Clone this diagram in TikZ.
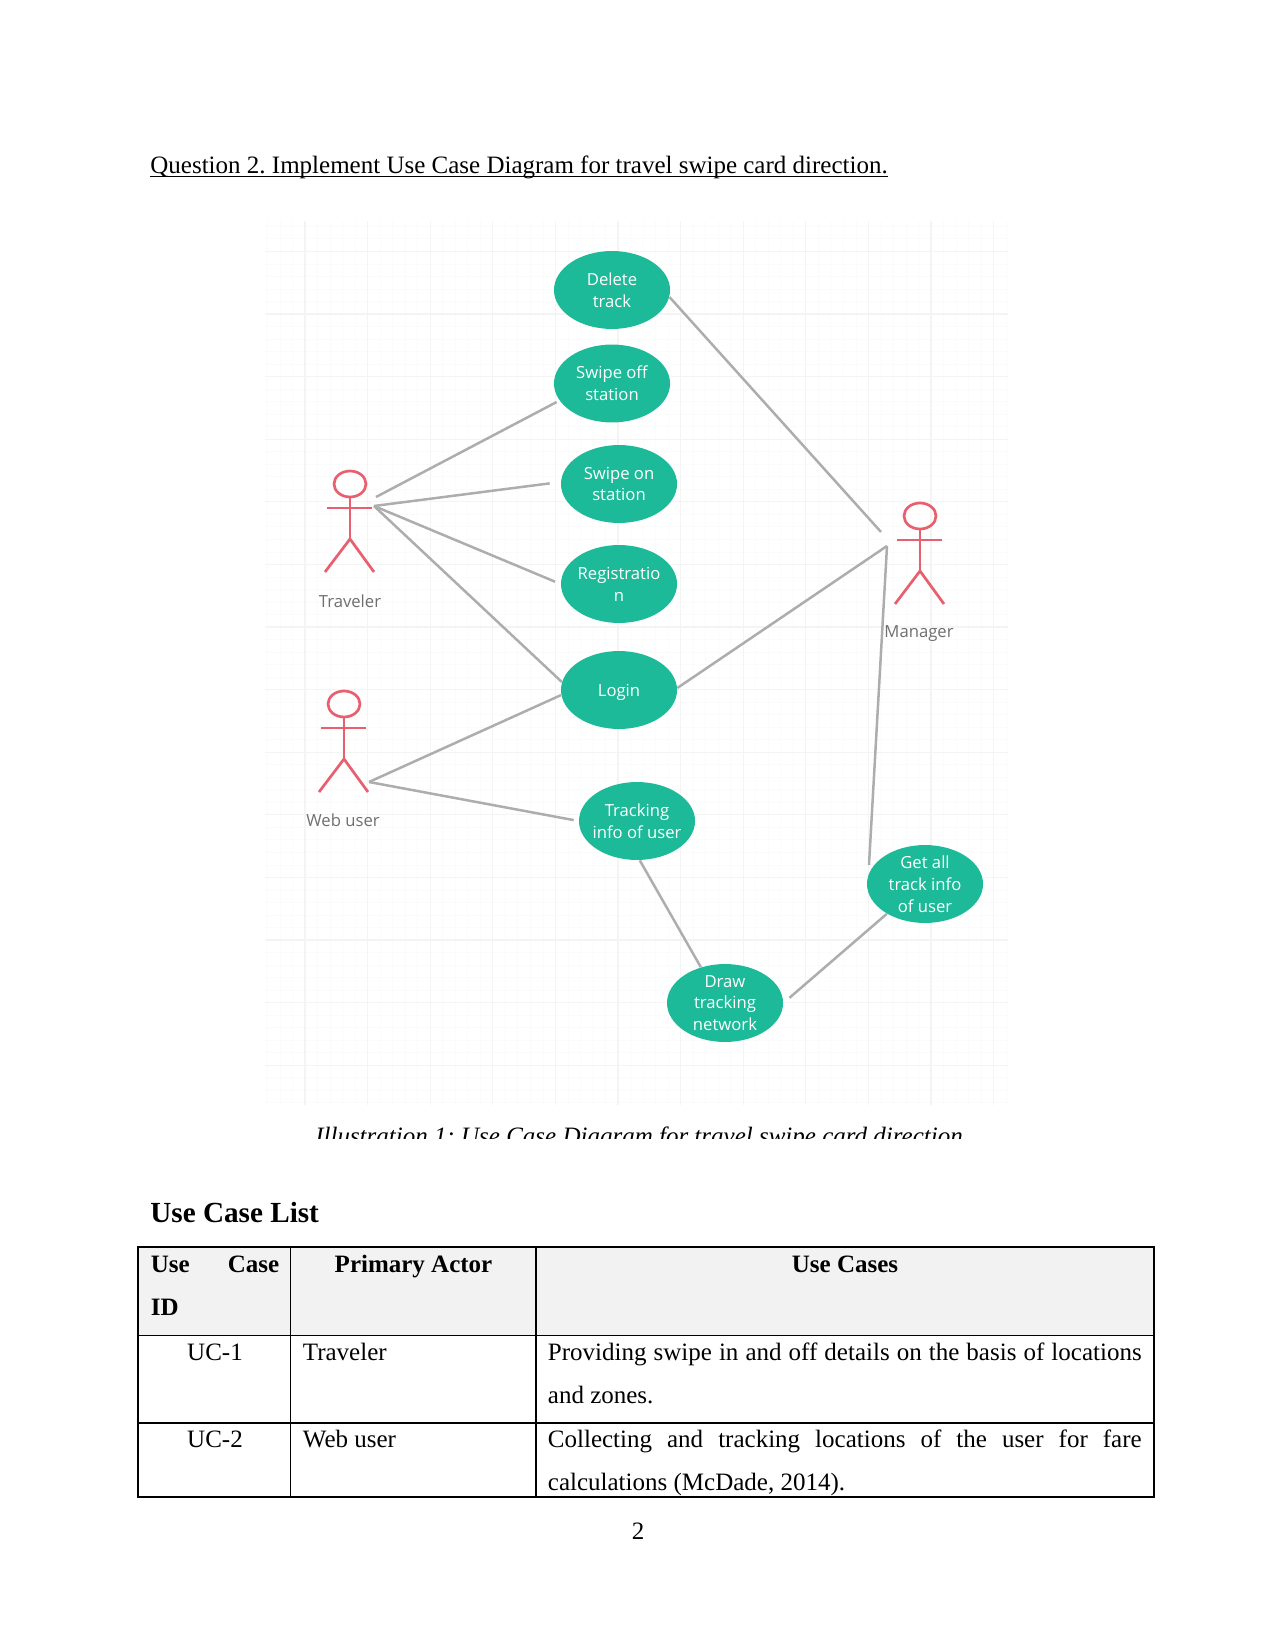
\documentclass[tikz,border=0pt]{standalone}
\usepackage{fontspec}
\setmainfont{Liberation Serif}
\newfontfamily\labelfont{Open Sans}
\usetikzlibrary{shapes.geometric}
\frenchspacing
\definecolor{usecasegreen}{HTML}{1CBA98}
\definecolor{actorred}{HTML}{E8606F}
\definecolor{linkgray}{HTML}{ADADAD}
\definecolor{actorgray}{HTML}{6E6E6E}
\definecolor{headgray}{HTML}{F2F2F2}
\definecolor{gridmajor}{HTML}{F4F4F4}
\definecolor{gridminor}{HTML}{FBFBFB}
% one line of a table cell, stretched to the cell width
\newcommand{\fullline}[2]{\makebox[#1pt][s]{#2}}
\tikzset{
  usecase/.style={ellipse,fill=usecasegreen,text=white,minimum width=55.7pt,minimum height=37.4pt,
    inner xsep=-10pt,inner ysep=-8pt,align=center,font=\labelfont\fontsize{8}{10.5}\selectfont},
  actorname/.style={text=actorgray,font=\labelfont\fontsize{8}{10.5}\selectfont},
  link/.style={draw=linkgray,line width=1.2pt},
  cell/.style={anchor=base west,inner sep=0pt,font=\fontsize{12}{14}\selectfont},
  cellmid/.style={anchor=base,inner sep=0pt,font=\fontsize{12}{14}\selectfont},
  boldcell/.style={cellmid,font=\fontsize{12}{14}\selectfont\bfseries},
  actor/.pic={
    \draw[actorred,line width=1.3pt] (0,0) ellipse (16 and 13);
    \draw[actorred,line width=1.3pt] (0,13) -- (0,55);
    \draw[actorred,line width=1.3pt] (-23,24) -- (22,24);
    \draw[actorred,line width=1.3pt] (-25,88) -- (0,55) -- (24,88);
  }
}
\begin{document}
\begin{tikzpicture}[x=0.48pt,y=-0.48pt]
\useasboundingbox (0,0) rectangle (1275,1650);

\node[anchor=base west,inner sep=0pt,font=\fontsize{12}{14}\selectfont] (title) at (150,173.5)
  {\underline{\smash{Question 2. Implement Use Case Diagram for travel swipe card direction.}}};

% grid paper behind the diagram
\foreach \x in {0,...,59}
  \draw[gridminor,line width=0.4pt] (267.5+12.52*\x,221) -- (267.5+12.52*\x,1105);
\foreach \y in {0,...,70}
  \draw[gridminor,line width=0.4pt] (265,226.4+12.52*\y) -- (1008,226.4+12.52*\y);
\foreach \x in {0,...,11}
  \draw[gridmajor,line width=0.5pt] (305+62.6*\x,221) -- (305+62.6*\x,1105);
\foreach \y in {0,...,13}
  \draw[gridmajor,line width=0.5pt] (265,251.4+62.6*\y) -- (1008,251.4+62.6*\y);

% use cases
\node[usecase] (delete) at (612,290) {Delete\\track};
\node[usecase] (swipeoff) at (612,383.5) {Swipe off\\station};
\node[usecase] (swipeon) at (619,484) {Swipe on\\station};
\node[usecase] (registration) at (619,584) {Registratio\\n};
\node[usecase,text height=6.2pt,text depth=0pt] (login) at (619,690) {Login};
\node[usecase] (tracking) at (637,821) {Tracking\\info of user};
\node[usecase] (draw) at (725,1003) {Draw\\tracking\\network};
\node[usecase] (getall) at (925,884) {Get all\\track info\\of user};

% actors
\pic at (350,484) {actor};
\node[actorname] (traveler) at (350,601) {Traveler};
\pic at (344,704) {actor};
\node[actorname] (webuser) at (343,820) {Web user};
\pic at (920,516) {actor};
\node[actorname] (manager) at (919,634) {Manager};

\coordinate (travelertop) at (376,497);
\coordinate (travelerhand) at (374,506);
\coordinate (webhand) at (369,782);
\coordinate (managertop) at (881,532);
\coordinate (managerhand) at (887,546);

% associations
\draw[link,shorten >=1.5pt] (travelertop) -- (swipeoff.198);
\draw[link,shorten >=5.3pt] (travelerhand) -- (swipeon.178);
\draw[link,shorten >=2.9pt] (travelerhand) -- (registration.180);
\draw[link] (travelerhand) -- (login.172);
\draw[link] (webhand) -- (login.185);
\draw[link,shorten >=2.4pt] (webhand) -- (tracking.180);
\draw[link] (tracking.-86) -- (draw.124);
\draw[link,shorten <=3.8pt] (draw.0) -- (getall.218);
\draw[link] (delete.-7) -- (managertop);
\draw[link] (login.2) -- (managerhand);
\draw[link,shorten <=4.3pt] (getall.170) -- (managerhand);

% caption, cut off at the lower edge of its frame
\begin{scope}
\clip (280,1110) rectangle (1000,1138);
\node[anchor=base,inner sep=0pt,font=\fontsize{12}{14}\selectfont\itshape] (caption) at (639,1144)
  {Illustration 1: Use Case Diagram for travel swipe card direction};
\end{scope}

\node[anchor=base west,inner sep=0pt,font=\fontsize{14}{16}\selectfont\bfseries] (listhead) at (150,1222) {Use Case List};

% table
\fill[headgray] (138,1247) rectangle (1154,1335);
\draw[line width=0.5pt] (290.3,1247) -- (290.3,1497);
\draw[line width=0.5pt] (536,1247) -- (536,1497);
\draw[line width=0.8pt] (138,1335.5) -- (1154,1335.5);
\draw[line width=0.8pt] (138,1423.2) -- (1154,1423.2);
\draw[line width=1.4pt] (138,1247) rectangle (1154,1497);

\node[boldcell,anchor=base west] (idhead) at (150.5,1272) {\fullline{61.6}{Use Case}};
\node[boldcell,anchor=base west] (idheadb) at (150.5,1315) {ID};
\node[boldcell] (actorhead) at (413.5,1272) {Primary Actor};
\node[boldcell] (casehead) at (845,1272) {Use Cases};

\node[cellmid] (idone) at (215,1360) {UC-1};
\node[cell] (actorone) at (302.5,1360) {Traveler};
\node[cell] (caseone) at (547.5,1360) {\fullline{285}{Providing swipe in and off details on the basis of locations}};
\node[cell] (caseoneb) at (547.5,1403) {and zones.};

\node[cellmid] (idtwo) at (215,1447) {UC-2};
\node[cell] (actortwo) at (302.5,1447) {Web user};
\node[cell] (casetwo) at (547.5,1447) {\fullline{285}{Collecting and tracking locations of the user for fare}};
\node[cell] (casetwob) at (547.5,1490) {calculations (McDade, 2014).};

\node[cellmid] (pagenum) at (638,1539) {2};
\end{tikzpicture}
\end{document}
